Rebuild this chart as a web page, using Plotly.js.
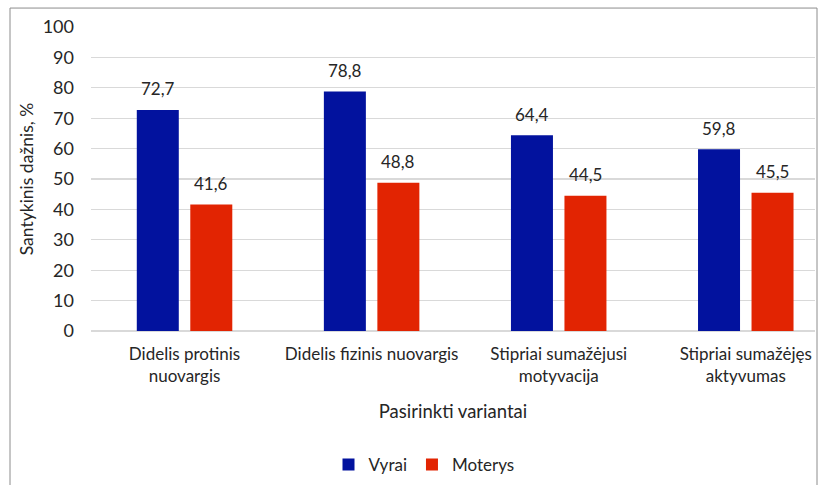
<!DOCTYPE html>
<html>
<head>
<meta charset="utf-8">
<script src="https://cdn.plot.ly/plotly-3.0.1.min.js"></script>
<style>
  html, body { margin: 0; padding: 0; background: #fff; }
  #chart { width: 819px; height: 485px; }
</style>
</head>
<body>
<div id="chart"></div>
<script>
const categories = [
  "Didelis protinis<br>nuovargis",
  "Didelis fizinis nuovargis",
  "Stipriai sumažėjusi<br>motyvacija",
  "Stipriai sumažėjęs<br>aktyvumas"
];
const seriesNames = ["Vyrai", "Moterys"];
const vyrai = [72.7, 78.8, 64.4, 59.8];
const moterys = [41.6, 48.8, 44.5, 45.5];
const seriesColors = ["#02129E", "#E22402"];

const FONT = "Lato, 'Open Sans', sans-serif";
const TXT = "#262626";
const fmt = v => v.toFixed(1).replace(".", ",");

const idx = categories.map((c, i) => i);
const traces = [vyrai, moterys].map((vals, k) => ({
  type: "bar",
  name: seriesNames[k],
  x: idx,
  y: vals,
  marker: { color: seriesColors[k] },
  hoverinfo: "skip"
}));

const bargap = 0.428, bargroupgap = 0.215;
const slot = (1 - bargap) / 2;
const annotations = [];
[vyrai, moterys].forEach((vals, k) => {
  vals.forEach((v, i) => {
    annotations.push({
      x: i + (k === 0 ? -slot / 2 : slot / 2),
      y: v,
      xref: "x", yref: "y",
      text: fmt(v),
      showarrow: false,
      yshift: 21,
      font: { family: FONT, size: 17, color: TXT }
    });
  });
});

const ml = 91, mr = 4, mt = 27, mb = 153;
const pw = 819 - ml - mr, ph = 485 - mt - mb;
const px = X => (X - ml) / pw;
const py = Y => (485 - mb - Y) / ph;

const layout = {
  width: 819, height: 485,
  margin: { l: ml, r: mr, t: mt, b: mb },
  paper_bgcolor: "#fff", plot_bgcolor: "#fff",
  font: { family: FONT, size: 17, color: TXT },
  barmode: "group",
  bargap: bargap,
  bargroupgap: bargroupgap,
  showlegend: true,
  legend: {
    orientation: "h",
    x: px(424), xanchor: "center",
    y: py(465), yanchor: "middle",
    font: { family: FONT, size: 17, color: TXT },
    itemwidth: 30
  },
  xaxis: {
    range: [-0.5, 3.37],
    tickmode: "array",
    tickvals: idx,
    ticktext: categories,
    showgrid: false,
    zeroline: false,
    showline: false,
    ticks: "",
    ticklabelstandoff: 11,
    tickfont: { family: FONT, size: 17, color: TXT },
    title: { text: "Pasirinkti variantai", font: { family: FONT, size: 18.5, color: TXT }, standoff: 19 },
    fixedrange: true
  },
  yaxis: {
    range: [0, 100],
    dtick: 10,
    showgrid: true,
    gridcolor: "#D9D9D9",
    gridwidth: 1.3,
    zeroline: true,
    zerolinecolor: "#D9D9D9",
    zerolinewidth: 1.3,
    showline: false,
    ticks: "",
    ticklabelstandoff: 16,
    tickfont: { family: FONT, size: 18, color: TXT },
    title: { text: "Santykinis dažnis, %", font: { family: FONT, size: 17.5, color: TXT }, standoff: 4 },
    fixedrange: true
  },
  annotations: annotations,
  shapes: [{
    type: "rect", xref: "paper", yref: "paper",
    x0: px(10), x1: px(817), y0: py(495), y1: py(8),
    line: { color: "#8C8C8C", width: 1 },
    fillcolor: "rgba(0,0,0,0)",
    layer: "below"
  }]
};

Plotly.newPlot("chart", traces, layout, { displayModeBar: false, staticPlot: true });
</script>
</body>
</html>
